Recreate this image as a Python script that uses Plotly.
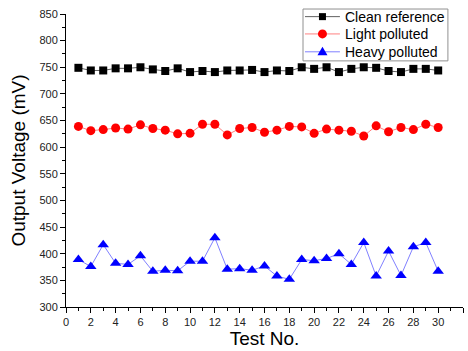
import plotly.graph_objects as go

test_no = list(range(1, 31))
clean_reference = [749, 744, 744, 748, 748, 750, 746, 743, 748, 741, 743, 741, 744, 744, 745,
                   741, 744, 743, 750, 747, 750, 741, 747, 750, 749, 743, 741, 747, 747, 744]
light_polluted = [639, 631, 633, 636, 634, 642, 635, 632, 625, 626, 643, 643, 623, 635, 637,
                  628, 632, 639, 638, 626, 634, 632, 630, 621, 640, 629, 637, 633, 643, 637]
heavy_polluted = [389, 376, 417, 382, 380, 396, 367, 369, 368, 386, 386, 430, 371, 372, 369,
                  377, 358, 352, 389, 387, 391, 400, 380, 421, 358, 405, 359, 413, 421, 367]
series_names = ["Clean reference", "Light polluted", "Heavy polluted"]

x_ticks = list(range(0, 33, 2))
y_ticks = list(range(300, 851, 50))

FONT = "Liberation Sans, Arial"
line_colors = ["#606060", "#ff8080", "#8080ff"]
marker_colors = ["black", "#ff0000", "#0000ff"]

fig = go.Figure()
fig.add_trace(go.Scatter(x=test_no, y=clean_reference, name=series_names[0], mode="lines+markers",
                         line=dict(color=line_colors[0], width=1),
                         marker=dict(symbol="square", size=8, color=marker_colors[0])))
fig.add_trace(go.Scatter(x=test_no, y=light_polluted, name=series_names[1], mode="lines+markers",
                         line=dict(color=line_colors[1], width=1),
                         marker=dict(symbol="circle", size=9, color=marker_colors[1])))
fig.add_trace(go.Scatter(x=test_no, y=heavy_polluted, name=series_names[2], mode="lines+markers",
                         line=dict(color=line_colors[2], width=1),
                         marker=dict(symbol="triangle-up", size=10, color=marker_colors[2])))

axis_common = dict(showgrid=False, zeroline=False, showline=True, linecolor="black", linewidth=1,
                   ticks="outside", ticklen=5, tickwidth=1, tickcolor="black",
                   tickfont=dict(family=FONT, size=11, color="#222"),
                   minor=dict(ticks="outside", ticklen=3, tickwidth=1, tickcolor="black"))

fig.update_xaxes(range=[0, 32], tickvals=x_ticks, ticktext=[str(v) for v in x_ticks],
                 minor_dtick=1, minor_tick0=0,
                 title=dict(text="Test No.", font=dict(family=FONT, size=19, color="black"), standoff=4),
                 **axis_common)
fig.update_yaxes(range=[300, 850], tickvals=y_ticks, ticktext=[str(v) for v in y_ticks],
                 minor_dtick=25, minor_tick0=300,
                 title=dict(text="Output Voltage (mV)", font=dict(family=FONT, size=19, color="black"), standoff=8),
                 **axis_common)

# Compact legend (drawn with shapes + annotations, like the Origin-style box)
shapes = [dict(type="rect", xref="paper", yref="paper", x0=0.597, x1=0.962, y0=0.840, y1=1.017,
               line=dict(color="#909090", width=1), fillcolor="white", layer="above")]
annotations = []
row_y = [0.991, 0.932, 0.871]
mx = 0.646
for i, name in enumerate(series_names):
    yy = row_y[i]
    shapes.append(dict(type="line", xref="paper", yref="paper", x0=0.602, x1=0.690, y0=yy, y1=yy,
                       line=dict(color=line_colors[i], width=1), layer="above"))
    annotations.append(dict(xref="paper", yref="paper", x=0.697, y=yy, xanchor="left", yanchor="middle",
                            text=name, showarrow=False, font=dict(family=FONT, size=14, color="black")))
common_pix = dict(xref="paper", yref="paper", xsizemode="pixel", ysizemode="pixel",
                  xanchor=mx, line=dict(width=0), fillcolor=marker_colors[0], layer="above")
shapes.append(dict(common_pix, type="rect", yanchor=row_y[0], x0=-3.5, x1=3.5, y0=-3.5, y1=3.5,
                   fillcolor=marker_colors[0]))
shapes.append(dict(common_pix, type="circle", yanchor=row_y[1], x0=-4.5, x1=4.5, y0=-4.5, y1=4.5,
                   fillcolor=marker_colors[1]))
shapes.append(dict(common_pix, type="path", yanchor=row_y[2], path="M -5,-3.5 L 5,-3.5 L 0,5 Z",
                   fillcolor=marker_colors[2]))

fig.update_layout(
    width=468, height=351,
    margin=dict(l=66, r=5, t=14, b=44),
    paper_bgcolor="white", plot_bgcolor="white",
    showlegend=False,
    shapes=shapes,
    annotations=annotations,
)

fig.write_html("out.html")
